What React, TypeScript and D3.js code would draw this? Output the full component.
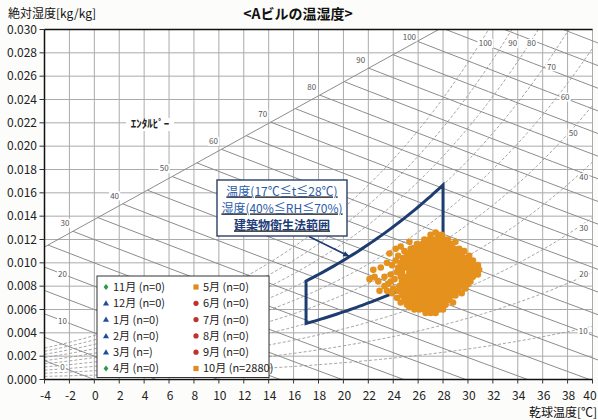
import React from 'react';
import * as d3 from 'd3';

// ---------- chart text ----------
const chartTitle = '<Aビルの温湿度>';
const yAxisTitle = '絶対湿度[kg/kg]';
const xAxisTitle = '乾球温度[℃]';
const enthalpyCaption = 'ｴﾝﾀﾙﾋﾟｰ';

// ---------- axes ----------
const xTickValues = [-4, -2, 0, 2, 4, 6, 8, 10, 12, 14, 16, 18, 20, 22, 24, 26, 28, 30, 32, 34, 36, 38, 40];
const yTickValues = [0, 0.002, 0.004, 0.006, 0.008, 0.01, 0.012, 0.014, 0.016, 0.018, 0.02, 0.022, 0.024, 0.026, 0.028, 0.03];

// ---------- psychrometric background ----------
const rhLevels = [10, 20, 30, 40, 50, 60, 70, 80, 90, 100];
// [RH %, dry bulb °C, humidity kg/kg] where each RH label sits
const rhLabelSpots: [number, number, number][] = [
  [100, 31.4, 0.0288],
  [90, 33.6, 0.0288],
  [80, 35.1, 0.0288],
  [70, 36.7, 0.0268],
  [60, 37.8, 0.0242],
  [50, 38.45, 0.0211],
  [40, 39.3, 0.0173],
  [30, 39.3, 0.013],
  [20, 39.3, 0.009],
  [10, 39.25, 0.0041],
];
const enthalpyLevels = [0, 5, 10, 15, 20, 25, 30, 35, 40, 45, 50, 55, 60, 65, 70, 75, 80, 85, 90, 95, 100, 105, 110, 115];
const enthalpyLabelLevels = [0, 10, 20, 30, 40, 50, 60, 70, 80, 90, 100];
// enthalpy scale line: [dry bulb °C, humidity kg/kg]
const scaleLineFrom: [number, number] = [-4, 0.01136];
const scaleLineTo: [number, number] = [27.65, 0.03];

// ---------- building hygiene range ----------
const hygieneTemp = [17, 28];
const hygieneRH = [40, 70];
const hygieneText = ['温度(17℃≦t≦28℃)', '湿度(40%≦RH≦70%)', '建築物衛生法範囲'];

// ---------- legend ----------
const legendMonths = ['11月', '12月', '1月', '2月', '3月', '4月', '5月', '6月', '7月', '8月', '9月', '10月'];
const legendCounts = ['0', '0', '0', '0', '', '0', '0', '0', '0', '0', '0', '2880'];
const legendShapes = ['diamond', 'triangle', 'triangle', 'triangle', 'triangle', 'diamond', 'square', 'circle', 'circle', 'circle', 'circle', 'square'];
const legendColors = ['#2e9a45', '#1f4f9c', '#1f4f9c', '#1f4f9c', '#1f4f9c', '#2e9a45', '#e08a20', '#c0322b', '#c0322b', '#c0322b', '#c0322b', '#e08a20'];

// ---------- October readings: [humidity kg/kg, dry bulb temperatures °C] ----------
const octoberRows: [number, number[]][] = [
  [0.0126, [27.4]],
  [0.0124, [27.0, 27.6, 27.9]],
  [0.012, [26.5, 26.9, 27.3, 27.7, 28.1, 28.4]],
  [0.0118, [25.3, 29.0]],
  [0.0116, [25.9, 26.3, 26.7, 27.1, 27.5, 27.9, 28.3, 28.7]],
  [0.0114, [24.6]],
  [0.0112, [24.2, 25.4, 25.7, 26.1, 26.5, 26.9, 27.3, 27.7, 28.1, 28.5, 28.9, 29.3]],
  [0.011, [24.9, 29.7]],
  [0.0108, [23.7, 25.1, 25.5, 25.9, 26.3, 26.7, 27.1, 27.5, 27.9, 28.3, 28.7, 29.1, 29.5]],
  [0.0106, [24.4, 30.1]],
  [0.0104, [24.8, 25.2, 25.6, 26.0, 26.4, 26.8, 27.2, 27.6, 28.0, 28.4, 28.8, 29.2, 29.6, 29.9]],
  [0.0102, [24.2, 30.4]],
  [0.01, [23.5, 24.6, 24.9, 25.3, 25.7, 26.1, 26.5, 26.9, 27.3, 27.7, 28.1, 28.5, 28.9, 29.3, 29.7, 30.1, 30.3]],
  [0.0098, [23.9, 30.8]],
  [0.0096, [23.0, 24.4, 24.8, 25.0, 25.4, 25.8, 26.2, 26.6, 27.0, 27.4, 27.8, 28.2, 28.6, 29.0, 29.4, 29.8, 30.2, 30.5]],
  [0.0094, [22.4, 30.9]],
  [0.0092, [24.3, 24.7, 25.3, 25.7, 26.1, 26.5, 26.9, 27.3, 27.7, 28.1, 28.5, 28.9, 29.3, 29.7, 30.1, 30.5]],
  [0.009, [23.8, 30.8]],
  [0.0088, [22.5, 23.3, 24.6, 25.0, 25.4, 25.8, 26.2, 26.6, 27.0, 27.4, 27.8, 28.2, 28.6, 29.0, 29.4, 29.8, 30.2, 30.4]],
  [0.0086, [22.1, 24.1]],
  [0.0084, [22.8, 23.8, 24.7, 25.1, 25.5, 25.9, 26.3, 26.7, 27.1, 27.5, 27.9, 28.3, 28.7, 29.1, 29.5, 29.9, 30.2]],
  [0.0082, [23.6, 30.0]],
  [0.008, [23.3, 24.5, 24.9, 25.3, 25.7, 26.1, 26.5, 26.9, 27.3, 27.7, 28.1, 28.5, 28.9, 29.3, 29.6]],
  [0.0078, [24.0, 29.8]],
  [0.0076, [22.9, 23.5, 24.4, 24.8, 25.2, 25.6, 26.0, 26.4, 26.8, 27.2, 27.6, 28.0, 28.4, 28.8, 29.2]],
  [0.0074, [23.9, 29.5]],
  [0.0072, [24.7, 25.1, 25.5, 25.9, 26.3, 26.7, 27.1, 27.5, 27.9, 28.3, 28.7, 29.0]],
  [0.007, [24.3]],
  [0.0068, [24.9, 25.3, 25.7, 26.1, 26.5, 26.9, 27.3, 27.7, 28.1, 28.5]],
  [0.0066, [24.6, 28.8]],
  [0.0064, [25.1, 25.5, 25.9, 26.3, 26.7, 27.1, 27.5, 27.9, 28.2]],
  [0.0062, [25.3]],
  [0.006, [25.7, 26.1, 26.5, 26.9, 27.3, 27.7, 28.0]],
  [0.0057, [26.6, 27.0, 27.4]],
];

// ---------- psychrometrics ----------
const P_ATM = 101.325;
const psat = (t: number) =>
  t >= 0 ? 0.61078 * Math.exp((17.27 * t) / (t + 237.3)) : 0.61078 * Math.exp((21.875 * t) / (t + 265.5));
const wFromRH = (t: number, rh: number) => {
  const pv = (rh / 100) * psat(t);
  return (0.622 * pv) / (P_ATM - pv);
};
const wFromH = (t: number, h: number) => (h - 1.006 * t) / (2501 + 1.86 * t);
const scaleSlope = (scaleLineTo[1] - scaleLineFrom[1]) / (scaleLineTo[0] - scaleLineFrom[0]);
const wScale = (t: number) => scaleLineFrom[1] + scaleSlope * (t - scaleLineFrom[0]);

const bisect = (f: (t: number) => number, a: number, b: number) => {
  let lo = a, hi = b;
  const fa = f(lo);
  for (let i = 0; i < 60; i++) {
    const mid = (lo + hi) / 2;
    if (Math.sign(f(mid)) === Math.sign(fa)) lo = mid; else hi = mid;
  }
  return (lo + hi) / 2;
};

// start of an enthalpy line (on the scale line, left edge, or top edge)
const enthalpyStart = (h: number) => {
  const f = (t: number) => wFromH(t, h) - wScale(t);
  if (f(scaleLineFrom[0]) <= 0) return scaleLineFrom[0];
  if (f(scaleLineTo[0]) > 0) return (h - 0.03 * 2501) / (1.006 + 0.03 * 1.86);
  return bisect(f, scaleLineFrom[0], scaleLineTo[0]);
};

// ---------- layout ----------
const W = 598;
const H = 420;
const PL = 44.5, PR = 592.5, PT = 29.5, PB = 379.5;
const FONT = "'Noto Sans CJK JP', 'Noto Sans', sans-serif";

const x = d3.scaleLinear().domain([-4, 40]).range([PL, PR]);
const y = d3.scaleLinear().domain([0, 0.03]).range([PB, PT]);
const line = d3.line<[number, number]>().x((d) => x(d[0])).y((d) => y(d[1]));

export default function App() {
  // relative humidity curves
  const rhPaths = rhLevels.map((rh) => {
    const pts: [number, number][] = [];
    for (let t = -4; t <= 40.001; t += 0.25) {
      const w = wFromRH(t, rh);
      pts.push([t, w]);
      if (w > 0.0305) break;
    }
    return { rh, d: line(pts) as string };
  });

  // enthalpy lines
  const hPaths = enthalpyLevels.map((h) => {
    const t0 = enthalpyStart(h);
    const t1 = Math.min(h / 1.006, 41);
    const pts: [number, number][] = d3.range(0, 21).map((i) => {
      const t = t0 + ((t1 - t0) * i) / 20;
      return [t, wFromH(t, h)];
    });
    return { h, t0, d: line(pts) as string };
  });

  const hLabels = enthalpyLabelLevels.map((h) => {
    if (h >= 30) {
      const t0 = enthalpyStart(h);
      const bx = x(t0), by = y(wFromH(t0, h));
      return { h, px: bx - 8, py: Math.max(by - 8, 37) };
    }
    const t = -2.55;
    return { h, px: x(t), py: y(wFromH(t, h)) };
  });

  // hygiene-law polygon
  const [tLo, tHi] = hygieneTemp;
  const [rhLo, rhHi] = hygieneRH;
  const upper: [number, number][] = d3.range(tLo, tHi + 0.0001, 0.25).map((t) => [t, wFromRH(t, rhHi)]);
  const lower: [number, number][] = d3.range(tHi, tLo - 0.0001, -0.25).map((t) => [t, wFromRH(t, rhLo)]);
  const hygienePath = (line([...upper, ...lower]) as string) + 'Z';

  // annotation arrow: from the note box to the upper boundary
  const arrowEndT = 20.5;
  const ax1 = x(arrowEndT), ay1 = y(wFromRH(arrowEndT, rhHi));
  const ax0 = 309, ay0 = 236.5;
  const ang = Math.atan2(ay1 - ay0, ax1 - ax0);
  const ah = 7;
  const arrowHead = [
    [ax1, ay1],
    [ax1 - ah * Math.cos(ang - 0.4), ay1 - ah * Math.sin(ang - 0.4)],
    [ax1 - ah * Math.cos(ang + 0.4), ay1 - ah * Math.sin(ang + 0.4)],
  ].map((p) => p.join(',')).join(' ');

  const octoberPoints: [number, number][] = octoberRows.flatMap(([w, ts]) => ts.map((t) => [t, w] as [number, number]));

  const marker = (shape: string, color: string, cx: number, cy: number) => {
    if (shape === 'circle') return <circle cx={cx} cy={cy} r={2.6} fill={color} />;
    if (shape === 'square') return <rect x={cx - 2.6} y={cy - 2.6} width={5.2} height={5.2} fill={color} />;
    if (shape === 'triangle')
      return <path d={d3.symbol(d3.symbolTriangle, 16)() as string} transform={`translate(${cx},${cy + 0.5})`} fill={color} />;
    return <path d={`M${cx},${cy - 3}L${cx + 2.4},${cy}L${cx},${cy + 3}L${cx - 2.4},${cy}Z`} fill={color} />;
  };

  const legendX = 97, legendY = 276, legendW = 172, legendH = 101.5;
  const rowY = (i: number) => 287 + i * 16.3;

  return (
    <svg width={W} height={H} style={{ position: 'absolute', left: 0, top: 0, background: '#fcfcfa' }} fontFamily={FONT}>
      <defs>
        <clipPath id="plotClip">
          <rect x={PL} y={PT} width={PR - PL} height={PB - PT} />
        </clipPath>
        <clipPath id="plotClipWide">
          <rect x={PL} y={PT} width={W - PL} height={PB - PT} />
        </clipPath>
      </defs>

      <rect x={PL} y={PT} width={PR - PL} height={PB - PT} fill="#ffffff" />

      {/* grid */}
      <g stroke="#ababab" strokeWidth={1}>
        {xTickValues.map((t) => (
          <line key={'gx' + t} x1={x(t)} x2={x(t)} y1={PT} y2={PB} />
        ))}
        {yTickValues.map((w) => (
          <line key={'gy' + w} x1={PL} x2={PR} y1={y(w)} y2={y(w)} />
        ))}
      </g>

      {/* relative humidity curves */}
      <g clipPath="url(#plotClip)" fill="none" stroke="#9a9a9a" strokeWidth={0.9} strokeDasharray="3,2">
        {rhPaths.map((p) => (
          <path key={'rh' + p.rh} d={p.d} />
        ))}
      </g>

      {/* enthalpy lines and scale */}
      <g clipPath="url(#plotClipWide)" fill="none" stroke="#8c8c8c" strokeWidth={1}>
        {hPaths.map((p) => (
          <path key={'h' + p.h} d={p.d} />
        ))}
        <line x1={x(scaleLineFrom[0])} y1={y(scaleLineFrom[1])} x2={x(scaleLineTo[0])} y2={y(scaleLineTo[1])} />
      </g>

      {/* enthalpy labels */}
      <g fontSize={8} fill="#555" textAnchor="middle">
        {hLabels.map((l) => {
          const wdt = String(l.h).length * 4.6 + 2;
          return (
            <g key={'hl' + l.h}>
              <rect x={l.px - wdt / 2} y={l.py - 4.5} width={wdt} height={9} fill="#ffffff" />
              <text x={l.px} y={l.py} dy="0.35em">{l.h}</text>
            </g>
          );
        })}
      </g>
      <rect x={126} y={118} width={48} height={13} fill="#ffffff" />
      <text x={150} y={124.5} dy="0.35em" fontSize={11} fontWeight="bold" fill="#222" textAnchor="middle">
        {enthalpyCaption}
      </text>

      {/* RH labels */}
      <g fontSize={8} fill="#555" textAnchor="middle">
        {rhLabelSpots.map(([rh, t, w]) => {
          const wdt = String(rh).length * 4.6 + 2;
          return (
            <g key={'rl' + rh}>
              <rect x={x(t) - wdt / 2} y={y(w) - 4.5} width={wdt} height={9} fill="#ffffff" />
              <text x={x(t)} y={y(w)} dy="0.35em">{rh}</text>
            </g>
          );
        })}
      </g>

      {/* hygiene-law range */}
      <path d={hygienePath} fill="none" stroke="#1d3c70" strokeWidth={3} strokeLinejoin="miter" />

      {/* October readings */}
      <g fill="#e5911d">
        {octoberPoints.map((p, i) => (
          <circle key={'p' + i} cx={x(p[0])} cy={y(p[1])} r={3.3} />
        ))}
      </g>

      {/* note box with arrow */}
      <line x1={ax0} y1={ay0} x2={ax1} y2={ay1} stroke="#1d3c70" strokeWidth={1.6} />
      <polygon points={arrowHead} fill="#1d3c70" />
      <rect x={217} y={180} width={130} height={56} fill="#ffffff" stroke="#2a3f66" strokeWidth={1.4} />
      <g textAnchor="middle" fontSize={12} style={{ textDecoration: 'underline' }}>
        <text x={282} y={195.5} fill="#2a5aa8">{hygieneText[0]}</text>
        <text x={282} y={212.5} fill="#2a5aa8">{hygieneText[1]}</text>
        <text x={282} y={229.5} fill="#1d3c78" fontWeight="bold">{hygieneText[2]}</text>
      </g>

      {/* legend */}
      <rect x={legendX} y={legendY} width={legendW} height={legendH} fill="#ffffff" stroke="#333" strokeWidth={1} />
      <g fontSize={11} fill="#222">
        {legendMonths.map((m, i) => {
          const col = i < 6 ? 0 : 1;
          const row = i % 6;
          const mx = col === 0 ? 106 : 196;
          const cy = rowY(row);
          return (
            <g key={'lg' + i}>
              {marker(legendShapes[i], legendColors[i], mx, cy)}
              <text x={mx + 7} y={cy} dy="0.36em">{`${m} (n=${legendCounts[i]})`}</text>
            </g>
          );
        })}
      </g>

      {/* frame and ticks */}
      <g stroke="#111" strokeWidth={1.5}>
        <line x1={PL} x2={PL} y1={PT} y2={PB} />
        <line x1={PL} x2={PR} y1={PB} y2={PB} />
        <line x1={PL} x2={PR} y1={PT} y2={PT} />
      </g>
      <g stroke="#333" strokeWidth={1}>
        {yTickValues.map((w) => (
          <line key={'ty' + w} x1={PL - 5} x2={PL} y1={y(w)} y2={y(w)} />
        ))}
        {xTickValues.map((t) => (
          <line key={'tx' + t} x1={x(t)} x2={x(t)} y1={PB} y2={PB + 4} />
        ))}
      </g>

      <g fontSize={12} fill="#222" textAnchor="end">
        {yTickValues.map((w) => (
          <text key={'ly' + w} x={37} y={y(w)} dy="0.36em">{w.toFixed(3)}</text>
        ))}
      </g>
      <g fontSize={12} fill="#222" textAnchor="middle">
        {xTickValues.map((t) => (
          <text key={'lx' + t} x={Math.min(x(t) + 1, W - 8)} y={400}>{t}</text>
        ))}
      </g>

      <text x={298} y={19} fontSize={14} fontWeight="bold" fill="#111" textAnchor="middle">{chartTitle}</text>
      <text x={8} y={18} fontSize={12} fill="#111">{yAxisTitle}</text>
      <text x={597} y={417} fontSize={12} fill="#111" textAnchor="end">{xAxisTitle}</text>
    </svg>
  );
}
